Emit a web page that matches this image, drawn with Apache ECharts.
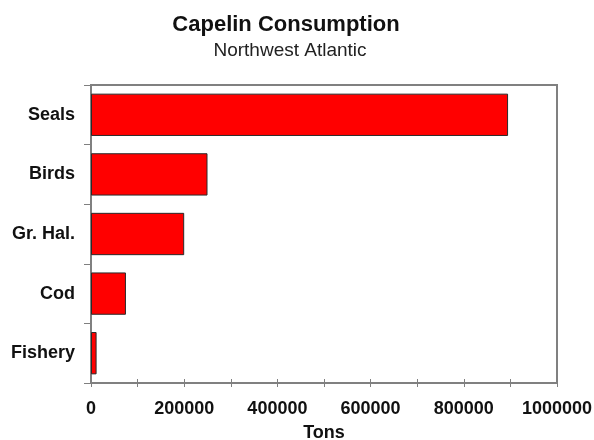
<!DOCTYPE html>
<html>
<head>
<meta charset="utf-8">
<title>Capelin Consumption</title>
<script src="https://cdn.jsdelivr.net/npm/echarts@6/dist/echarts.min.js"></script>
<style>
  html, body { margin: 0; padding: 0; background: #ffffff; }
  #chart { width: 594px; height: 440px; }
</style>
</head>
<body>
<div id="chart"></div>
<script>
// Consumers of capelin, top to bottom
const consumers = ['Seals', 'Birds', 'Gr. Hal.', 'Cod', 'Fishery'];
// Annual consumption in tons
const tons = [895000, 250000, 200000, 75000, 12000];
// Horizontal axis range
const tonsMin = 0;
const tonsMax = 1000000;
const tonsStep = 200000;

const FONT = 'Arial, "Liberation Sans", Helvetica, sans-serif';
const AXIS_GRAY = '#808080';

const chart = echarts.init(document.getElementById('chart'), null, { renderer: 'canvas' });

const valueAxisBase = {
  type: 'value',
  min: tonsMin,
  max: tonsMax,
  interval: tonsStep,
  splitLine: { show: false },
  axisLine: { show: true, lineStyle: { color: AXIS_GRAY, width: 2 } },
  minorTick: { show: true, splitNumber: 2, length: 4, lineStyle: { color: AXIS_GRAY, width: 1 } },
  axisTick: { show: true, length: 4, lineStyle: { color: AXIS_GRAY, width: 1 } }
};

chart.setOption({
  animation: false,
  backgroundColor: '#ffffff',
  title: [
    {
      text: 'Capelin Consumption',
      left: 281,
      top: 9,
      textAlign: 'center',
      textStyle: { fontFamily: FONT, fontSize: 22, fontWeight: 'bold', color: '#111111' }
    },
    {
      text: 'Northwest Atlantic',
      left: 285,
      top: 36,
      textAlign: 'center',
      textStyle: { fontFamily: FONT, fontSize: 19, fontWeight: 'normal', color: '#222222' }
    }
  ],
  grid: {
    left: 91,
    right: 37,
    top: 85,
    bottom: 57,
    show: true,
    borderColor: AXIS_GRAY,
    borderWidth: 2,
    backgroundColor: '#ffffff',
    containLabel: false,
    outerBoundsMode: 'none'
  },
  xAxis: [
    Object.assign({}, valueAxisBase, {
      name: 'Tons',
      nameLocation: 'middle',
      nameGap: 41,
      nameTextStyle: { fontFamily: FONT, fontSize: 18, fontWeight: 'bold', color: '#111111' },
      axisLabel: {
        margin: 17,
        fontFamily: FONT,
        fontSize: 18,
        fontWeight: 'bold',
        color: '#111111',
        formatter: (v) => String(v)
      }
    }),
    Object.assign({}, valueAxisBase, {
      position: 'bottom',
      axisLabel: { show: false },
      axisTick: { show: true, inside: true, length: 4, lineStyle: { color: AXIS_GRAY, width: 1 } },
      minorTick: { show: true, splitNumber: 2, length: 4, lineStyle: { color: AXIS_GRAY, width: 1 } }
    })
  ],
  yAxis: {
    type: 'category',
    data: consumers,
    inverse: true,
    boundaryGap: true,
    axisLine: { show: true, lineStyle: { color: AXIS_GRAY, width: 2 } },
    axisTick: { show: true, length: 7, alignWithLabel: false, lineStyle: { color: AXIS_GRAY, width: 1 } },
    splitLine: { show: false },
    axisLabel: {
      margin: 16,
      fontFamily: FONT,
      fontSize: 18,
      fontWeight: 'bold',
      color: '#111111'
    }
  },
  series: [
    {
      type: 'bar',
      data: tons,
      xAxisIndex: 0,
      barCategoryGap: '29%',
      itemStyle: { color: '#ff0000', borderColor: '#2a2a2a', borderWidth: 1 }
    }
  ]
});
</script>
</body>
</html>
